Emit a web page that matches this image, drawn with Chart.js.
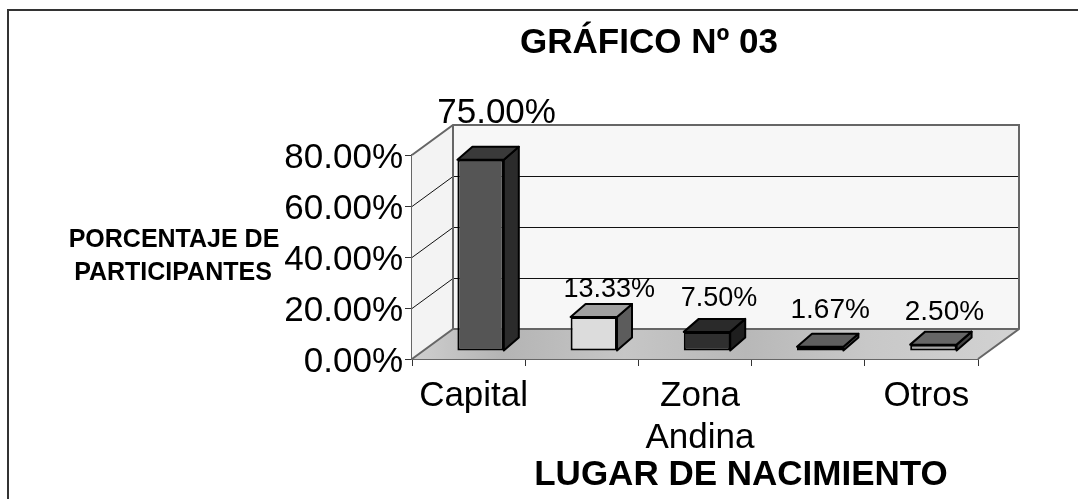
<!DOCTYPE html>
<html>
<head>
<meta charset="utf-8">
<title>Gráfico Nº 03</title>
<script src="https://cdn.jsdelivr.net/npm/chart.js@4"></script>
<style>
    html, body { margin: 0; padding: 0; background: #fff; }
    #wrap { width: 1078px; height: 499px; }
</style>
</head>
<body>
<div id="wrap"><canvas id="lugarChart" width="1078" height="499"></canvas></div>
<script>
// Values
const categories = ['Capital', '', ['Zona', 'Andina'], '', 'Otros'];
const porcentajes = [75.00, 13.33, 7.50, 1.67, 2.50];
const yTicks = [0, 20, 40, 60, 80];
const frontColors = ['#555555', '#dcdcdc', '#2f2f2f', '#6e6e6e', '#a6a6a6'];
const sideColors = ['#2b2b2b', '#5c5c5c', '#1e1e1e', '#4a4a4a', '#444444'];
const topColors = ['#3a3a3a', '#a0a0a0', '#2a2a2a', '#5f5f5f', '#666666'];
const labelFonts = [35, 27, 27, 28, 28];
const labelDx = [16, 15.5, 12, 10, 11];
const labelDy = [-45, -28, -34, -37, -33];

const FONT = '"Liberation Sans", Arial, sans-serif';
// depth of the box: back wall offset and the offset of the bars on the floor
const wallDx = 41, wallDy = -30;
const barDx = 12, barDy = -8;
const boxDx = 15, boxDy = -13;

function poly(ctx, pts, fill, stroke, lw) {
    ctx.beginPath();
    ctx.moveTo(pts[0][0], pts[0][1]);
    for (let i = 1; i < pts.length; i++) ctx.lineTo(pts[i][0], pts[i][1]);
    ctx.closePath();
    if (fill) { ctx.fillStyle = fill; ctx.fill(); }
    if (stroke) { ctx.strokeStyle = stroke; ctx.lineWidth = lw; ctx.stroke(); }
}

// walls, floor and the frame go behind the bars
const walls = {
    id: 'walls',
    beforeDatasetsDraw(chart) {
        const ctx = chart.ctx, a = chart.chartArea, y = chart.scales.y;
        ctx.save();
        poly(ctx, [[a.left, a.top], [a.left + wallDx, a.top + wallDy], [a.left + wallDx, a.bottom + wallDy], [a.left, a.bottom]], '#f3f3f3');
        poly(ctx, [[a.left + wallDx, a.top + wallDy], [a.right + wallDx, a.top + wallDy], [a.right + wallDx, a.bottom + wallDy], [a.left + wallDx, a.bottom + wallDy]], '#f7f7f7');
        const floor = ctx.createLinearGradient(a.left, 0, a.right + wallDx, 0);
        floor.addColorStop(0, '#cfcfcf');
        floor.addColorStop(0.15, '#b4b4b4');
        floor.addColorStop(0.35, '#c6c6c6');
        floor.addColorStop(0.55, '#b8b8b8');
        floor.addColorStop(0.75, '#c8c8c8');
        floor.addColorStop(1, '#d2d2d2');
        poly(ctx, [[a.left, a.bottom], [a.right, a.bottom], [a.right + wallDx, a.bottom + wallDy], [a.left + wallDx, a.bottom + wallDy]], floor);

        // grid lines follow the wall and the back plane
        ctx.strokeStyle = '#111';
        ctx.lineWidth = 1;
        yTicks.slice(1, -1).forEach(function (v) {
            const py = Math.round(y.getPixelForValue(v)) + 0.5;
            ctx.beginPath();
            ctx.moveTo(a.left, py);
            ctx.lineTo(a.left + wallDx, py + wallDy);
            ctx.lineTo(a.right + wallDx, py + wallDy);
            ctx.stroke();
        });

        // box outline
        ctx.strokeStyle = '#666';
        ctx.lineWidth = 2;
        ctx.beginPath();
        ctx.moveTo(a.left, a.top);
        ctx.lineTo(a.left + wallDx, a.top + wallDy);
        ctx.lineTo(a.right + wallDx, a.top + wallDy);
        ctx.lineTo(a.right + wallDx, a.bottom + wallDy);
        ctx.lineTo(a.right, a.bottom);
        ctx.moveTo(a.left, a.bottom);
        ctx.lineTo(a.left + wallDx, a.bottom + wallDy);
        ctx.lineTo(a.right + wallDx, a.bottom + wallDy);
        ctx.moveTo(a.left + wallDx, a.top + wallDy);
        ctx.lineTo(a.left + wallDx, a.bottom + wallDy);
        ctx.stroke();
        ctx.restore();
    },
    // the library's bars are the front faces, moved back onto the floor
    beforeDatasetDraw(chart) {
        const ctx = chart.ctx;
        ctx.save();
        ctx.translate(barDx, barDy);
    },
    afterDatasetDraw(chart) {
        const ctx = chart.ctx;
        ctx.restore();
        ctx.save();
        ctx.lineJoin = 'round';
        chart.getDatasetMeta(0).data.forEach(function (bar, i) {
            const half = bar.width / 2;
            const l = bar.x - half + barDx, r = bar.x + half + barDx;
            const t = bar.y + barDy, b = bar.base + barDy;
            poly(ctx, [[r, t], [r + boxDx, t + boxDy], [r + boxDx, b + boxDy], [r, b]], sideColors[i], '#000', 2);
            poly(ctx, [[l, t], [l + boxDx, t + boxDy], [r + boxDx, t + boxDy], [r, t]], topColors[i], '#000', 2);
        });
        ctx.restore();
    },
    afterDraw(chart) {
        const ctx = chart.ctx, y = chart.scales.y;
        ctx.save();
        // frame: only the left and top sides are in the scan
        ctx.strokeStyle = '#333';
        ctx.lineWidth = 2;
        ctx.beginPath();
        ctx.moveTo(8, 499);
        ctx.lineTo(8, 10);
        ctx.lineTo(1078, 10);
        ctx.stroke();

        ctx.fillStyle = '#000';
        ctx.textAlign = 'center';
        ctx.textBaseline = 'alphabetic';
        ctx.font = 'bold 35px ' + FONT;
        ctx.fillText('GRÁFICO Nº 03', 649, 53);
        ctx.fillText('LUGAR DE NACIMIENTO', 741, 485);
        ctx.font = 'bold 25px ' + FONT;
        ctx.fillText('PORCENTAJE DE', 174, 247);
        ctx.fillText('PARTICIPANTES', 173, 280);

        // value labels above each box
        chart.getDatasetMeta(0).data.forEach(function (bar, i) {
            ctx.font = labelFonts[i] + 'px ' + FONT;
            ctx.fillText(porcentajes[i].toFixed(2) + '%', bar.x + barDx + labelDx[i], bar.y + labelDy[i]);
        });

        // y tick labels sit on their ticks by the digit height
        ctx.textAlign = 'right';
        ctx.font = '35px ' + FONT;
        yTicks.forEach(function (v) {
            ctx.fillText(v.toFixed(2) + '%', 403, y.getPixelForValue(v) + 12.5);
        });
        ctx.restore();
    }
};

new Chart(document.getElementById('lugarChart').getContext('2d'), {
    type: 'bar',
    data: {
        labels: categories,
        datasets: [{
            label: 'Lugar de nacimiento',
            data: porcentajes,
            backgroundColor: frontColors,
            borderColor: '#000',
            borderWidth: 2,
            borderSkipped: false,
            barPercentage: 0.41,
            categoryPercentage: 1,
            clip: false
        }]
    },
    plugins: [walls],
    options: {
        responsive: false,
        animation: false,
        layout: { padding: { top: 155, right: 100, bottom: 0, left: 0 } },
        plugins: {
            legend: { display: false },
            title: { display: false },
            tooltip: { enabled: false }
        },
        scales: {
            x: {
                afterFit: function (scale) { scale.height = 140; },
                border: { color: '#666', width: 2 },
                grid: { drawOnChartArea: false, drawTicks: true, tickLength: 7, tickColor: '#333' },
                ticks: {
                    autoSkip: false,
                    maxRotation: 0,
                    padding: 9,
                    labelOffset: 5,
                    color: '#000',
                    font: { family: FONT, size: 35, lineHeight: 1.2 }
                }
            },
            y: {
                min: 0,
                max: 80,
                afterFit: function (scale) { scale.width = 412; },
                afterBuildTicks: function (scale) { scale.ticks = yTicks.map(function (v) { return { value: v }; }); },
                border: { color: '#666', width: 2 },
                grid: { drawOnChartArea: false, drawTicks: true, tickLength: 7, tickColor: '#333' },
                ticks: { display: false }
            }
        }
    }
});
</script>
</body>
</html>
